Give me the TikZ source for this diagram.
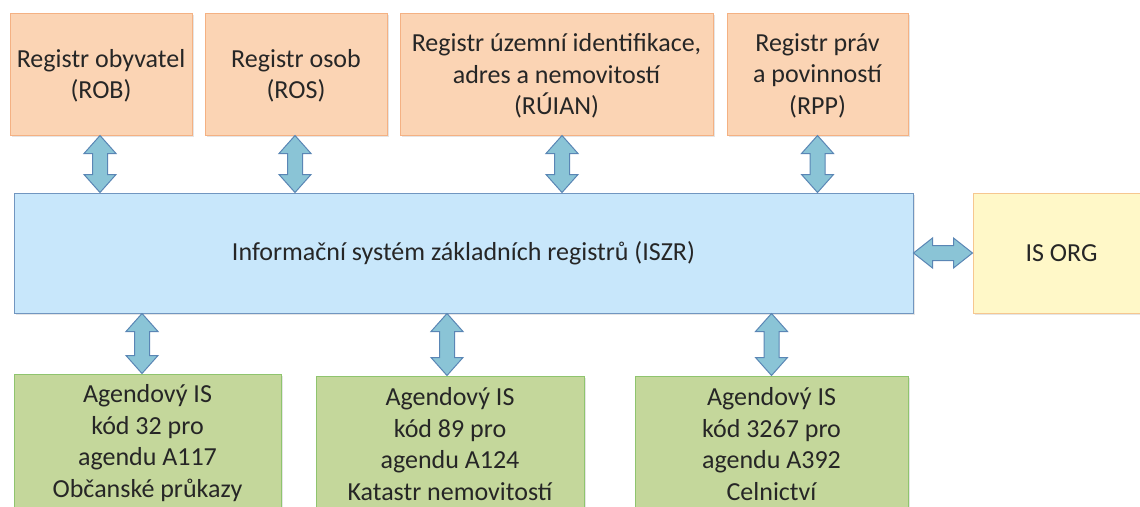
\documentclass[tikz,border=0pt]{standalone}
\usepackage{fontspec}
\setmainfont{Carlito}
\usetikzlibrary{calc,shadows}
\definecolor{orfill}{HTML}{FBD4B4}
\definecolor{ordraw}{HTML}{F4B183}
\definecolor{blfill}{HTML}{C8E7FB}
\definecolor{bldraw}{HTML}{7196C0}
\definecolor{yefill}{HTML}{FFF8C8}
\definecolor{yedraw}{HTML}{F6C790}
\definecolor{grfill}{HTML}{C4D79B}
\definecolor{grdraw}{HTML}{8FC46E}
\definecolor{arfill}{HTML}{8AC4D6}
\definecolor{ardraw}{HTML}{5A86B5}
\definecolor{txt}{HTML}{262626}
\tikzset{
  box/.style={rectangle, inner sep=0pt, align=center, text=txt,
    font=\fontsize{26}{31.7}\selectfont, line width=1pt,
    drop shadow={shadow xshift=1.5pt, shadow yshift=-1.5pt, opacity=0.2}},
  regbox/.style={box, fill=orfill, draw=ordraw, inner ysep=0pt, text depth=0pt},
  corebox/.style={box, fill=blfill, draw=bldraw},
  orgbox/.style={box, fill=yefill, draw=yedraw},
  agbox/.style={box, fill=grfill, draw=grdraw},
  arr/.style={fill=arfill, draw=ardraw, line width=1pt, line join=miter}
}
% vertical double arrow: #1 x offset (pt), #2 upper anchor, #3 lower anchor
\newcommand\vdarrow[3]{%
  \path[arr] let \p1=(#2), \p2=(#3), \n1={\x1+#1pt} in
    (\n1,\y1) -- (\n1+16pt,\y1-18pt) -- (\n1+7.5pt,\y1-18pt) --
    (\n1+7.5pt,\y2+18pt) -- (\n1+16pt,\y2+18pt) -- (\n1,\y2) --
    (\n1-16pt,\y2+18pt) -- (\n1-7.5pt,\y2+18pt) -- (\n1-7.5pt,\y1-18pt) --
    (\n1-16pt,\y1-18pt) -- cycle;}
% horizontal double arrow: #1 left anchor, #2 right anchor
\newcommand\hdarrow[2]{%
  \path[arr] let \p1=(#1), \p2=(#2) in
    (\x1,\y1) -- (\x1+19pt,\y1+15pt) -- (\x1+19pt,\y1+7.5pt) --
    (\x2-19pt,\y1+7.5pt) -- (\x2-19pt,\y1+15pt) -- (\x2,\y1) --
    (\x2-19pt,\y1-15pt) -- (\x2-19pt,\y1-7.5pt) -- (\x1+19pt,\y1-7.5pt) --
    (\x1+19pt,\y1-15pt) -- cycle;}
\begin{document}
\begin{tikzpicture}[x=1pt,y=1pt]
\useasboundingbox[fill=white] (0,0) rectangle (1140,-506);
\clip (0,0) rectangle (1140,-506);
% top registers
\node[regbox, minimum width=182, minimum height=122] (rob) at (101,-74) {Registr obyvatel\\(ROB)};
\node[regbox, minimum width=182, minimum height=122] (ros) at (296,-74) {Registr osob\\(ROS)};
\node[regbox, minimum width=313, minimum height=122] (ruian) at (556.5,-74) {Registr územní identifikace,\\adres a nemovitostí\\(RÚIAN)};
\node[regbox, minimum width=181, minimum height=122] (rpp) at (817.5,-74) {Registr práv\\a povinností\\(RPP)};
% core
\node[corebox, minimum width=899, minimum height=120] (iszr) at (463.5,-253) {Informační systém základních registrů (ISZR)};
\node[orgbox, minimum width=177, minimum height=120] (isorg) at (1061.5,-253) {IS ORG};
% agenda systems
\node[agbox, minimum width=267, minimum height=138] (ag1) at (147.5,-443) {Agendový IS\\kód 32 pro\\agendu A117\\Občanské průkazy};
\node[agbox, minimum width=268, minimum height=136] (ag2) at (450,-444) {Agendový IS\\kód 89 pro\\agendu A124\\Katastr nemovitostí};
\node[agbox, minimum width=273, minimum height=136] (ag3) at (771.5,-444) {Agendový IS\\kód 3267 pro\\agendu A392\\Celnictví};
% arrows
\vdarrow{-1}{rob.south}{rob.south |- iszr.north}
\vdarrow{-1}{ros.south}{ros.south |- iszr.north}
\vdarrow{5.5}{ruian.south}{ruian.south |- iszr.north}
\vdarrow{0}{rpp.south}{rpp.south |- iszr.north}
\vdarrow{-5.5}{ag1.north |- iszr.south}{ag1.north}
\vdarrow{-3}{ag2.north |- iszr.south}{ag2.north}
\vdarrow{0}{ag3.north |- iszr.south}{ag3.north}
\hdarrow{iszr.east}{isorg.west}
\end{tikzpicture}
\end{document}
